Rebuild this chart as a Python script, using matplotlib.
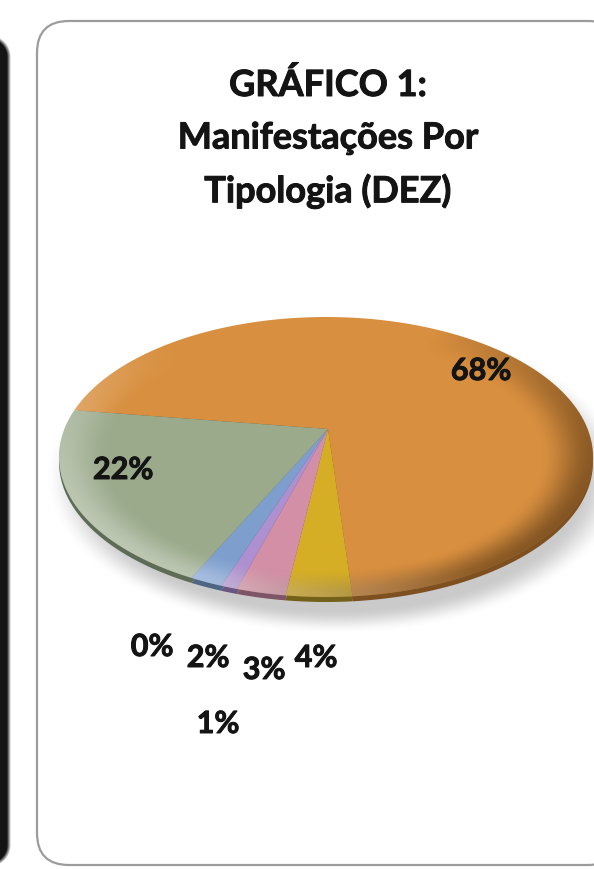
import numpy as np
import matplotlib
matplotlib.use("Agg")
import matplotlib.pyplot as plt
import matplotlib.patheffects as pe
from matplotlib.transforms import Transform
from matplotlib.patches import FancyBboxPatch, Circle
from matplotlib.path import Path

# ---- data -------------------------------------------------------------
values = [68, 4, 3, 1, 2, 0, 22]
slice_colors = ["#D88F3F", "#D6AE25", "#D38FA6", "#AE8FCF", "#7E9FCE", "#8FA0BF", "#9AAA8B"]
side_colors = ["#7E5020", "#75601A", "#7E5565", "#685580", "#4E6684", "#5A6A80", "#5E6B55"]
pct_labels = [f"{v}%" for v in values]
title_lines = ["GRÁFICO 1:", "Manifestações Por", "Tipologia (DEZ)"]

# label anchor points (pixel space)
label_xy = [(481, 372), (316, 659), (264, 671), (218, 725), (208, 659), (152, 648), (123, 471)]

# ---- geometry of the tilted disc (pixel space) -----------------------
W, H = 594, 870
APEX = (328.0, 430.0)       # where the slices meet
ECX, ECY = 326.0, 458.0     # centre of the outline ellipse
EA, EB = 267.0, 140.0       # semi-axes of the outline ellipse
THICK = 5                   # visible thickness of the disc edge
START = 160.5


def _densify(path, n=24):
    verts, codes = [], []
    for bez, code in path.iter_bezier():
        cp = bez.control_points
        if code == Path.MOVETO:
            verts.append(cp[0])
            codes.append(Path.MOVETO)
        elif code in (Path.LINETO, Path.CLOSEPOLY):
            verts.append(cp[-1])
            codes.append(Path.LINETO)
        else:
            pts = bez(np.linspace(0, 1, n + 1)[1:])
            verts.extend(pts)
            codes.extend([Path.LINETO] * len(pts))
    return Path(np.asarray(verts), codes)


class TiltedPie(Transform):
    """Maps the unit disc onto a tilted ellipse whose hub sits off-centre."""
    input_dims = 2
    output_dims = 2

    def __init__(self, dy=0.0):
        super().__init__()
        self.dy = dy

    def transform_non_affine(self, values):
        values = np.asarray(values, dtype=float)
        single = values.ndim == 1
        v = values.reshape(-1, 2)
        r = np.hypot(v[:, 0], v[:, 1])
        th = np.arctan2(v[:, 1], v[:, 0])
        ex = ECX + EA * np.cos(th)
        ey = ECY - EB * np.sin(th)
        X = APEX[0] + r * (ex - APEX[0])
        Y = APEX[1] + r * (ey - APEX[1]) + self.dy
        out = np.column_stack([X, Y])
        return out[0] if single else out

    def transform_path_non_affine(self, path):
        dense = _densify(path)
        return Path(self.transform_non_affine(dense.vertices), dense.codes)


def smoothstep(e0, e1, x):
    t = np.clip((x - e0) / (e1 - e0), 0, 1)
    return t * t * (3 - 2 * t)


fig = plt.figure(figsize=(W / 100, H / 100), dpi=100)
ax = fig.add_axes([0, 0, 1, 1])

# ---- pie (side first, then top face) ---------------------------------
side_wedges, _ = ax.pie(values, colors=side_colors, startangle=START,
                        counterclock=False, radius=1.0,
                        wedgeprops=dict(linewidth=0))
top_wedges, _ = ax.pie(values, colors=slice_colors, startangle=START,
                       counterclock=False, radius=1.0,
                       wedgeprops=dict(linewidth=0))

ax.set_aspect("auto")
ax.set_xlim(0, W)
ax.set_ylim(H, 0)
ax.axis("off")

for w in side_wedges:
    w.set_transform(TiltedPie(THICK) + ax.transData)
    w.set_zorder(3)
for w in top_wedges:
    w.set_transform(TiltedPie() + ax.transData)
    w.set_zorder(4)

# ---- panel background -------------------------------------------------
panel = FancyBboxPatch((37, 22), 620 - 37, 866 - 22,
                       boxstyle="round,pad=0,rounding_size=32",
                       fc="white", ec="#9c9c9c", lw=1.6, zorder=1)
ax.add_patch(panel)

# dark edge of the neighbouring panel on the left
gx, gy = np.meshgrid(np.arange(0, 24) + 0.5, np.arange(0, H) + 0.5)
rx0, rx1, ry0, ry1, rr = -80, 9, 38, 866, 20
qx = np.maximum(np.maximum(rx0 + rr - gx, gx - (rx1 - rr)), 0)
qy = np.maximum(np.maximum(ry0 + rr - gy, gy - (ry1 - rr)), 0)
sdf = np.hypot(qx, qy) - rr
bar = np.zeros(gx.shape + (4,))
bar[..., :3] = 0.08
bar[..., 3] = np.clip(0.5 - sdf / 4.0, 0, 1)
ax.imshow(bar, extent=(0, 24, H, 0), zorder=0.5, interpolation="bilinear")

# ---- soft shadow beneath the disc ------------------------------------
sx, sy = np.meshgrid(np.arange(30, 600) + 0.5, np.arange(330, 660) + 0.5)
ds = np.hypot((sx - 336) / 272.0, (sy - 478) / 147.0)
sh = np.zeros(sx.shape + (4,))
sh[..., :3] = 0.42
sh[..., 3] = 0.36 * (1 - smoothstep(0.9, 1.07, ds))
ax.imshow(sh, extent=(30, 600, 660, 330), zorder=2, interpolation="bilinear")

# ---- rim shading on the top face -------------------------------------
ox, oy = np.meshgrid(np.arange(40, 600) + 0.5, np.arange(300, 610) + 0.5)
nx, ny = (ox - ECX) / EA, (ECY - oy) / EB
ro, ang = np.hypot(nx, ny), np.arctan2(ny, nx)
edge = smoothstep(0.80, 1.0, ro)
dark = edge * 0.55 * np.clip(np.cos(ang + np.deg2rad(25)), 0, 1) ** 0.8
light = edge * 0.35 * np.clip(np.cos(ang - np.deg2rad(215)), 0, 1)
shade_d = np.zeros(ox.shape + (4,))
shade_d[..., :3] = [0.25, 0.15, 0.05]
shade_d[..., 3] = dark
shade_l = np.zeros(ox.shape + (4,))
shade_l[..., :3] = 1.0
shade_l[..., 3] = light
clip_disc = Circle((0, 0), 1.0, transform=TiltedPie() + ax.transData)
for img in (shade_d, shade_l):
    im = ax.imshow(img, extent=(40, 600, 610, 300), zorder=5, interpolation="bilinear")
    im.set_clip_path(clip_disc)

ax.set_xlim(0, W)
ax.set_ylim(H, 0)

# ---- texts -----------------------------------------------------------
font = ["Lato", "DejaVu Sans"]
thick = [pe.withStroke(linewidth=0.7, foreground="#141414")]
for (x, y), s in zip(label_xy, pct_labels):
    ax.text(x, y, s, ha="center", va="center", fontsize=22,
            fontweight="bold", family=font, color="#141414", zorder=6,
            path_effects=thick)

for i, line in enumerate(title_lines):
    ax.text(328, 86 + i * 53, line, ha="center", va="center", fontsize=26,
            fontweight="bold", family=font, color="#141414", zorder=6,
            path_effects=thick)

fig.savefig("out.png", dpi=100)
